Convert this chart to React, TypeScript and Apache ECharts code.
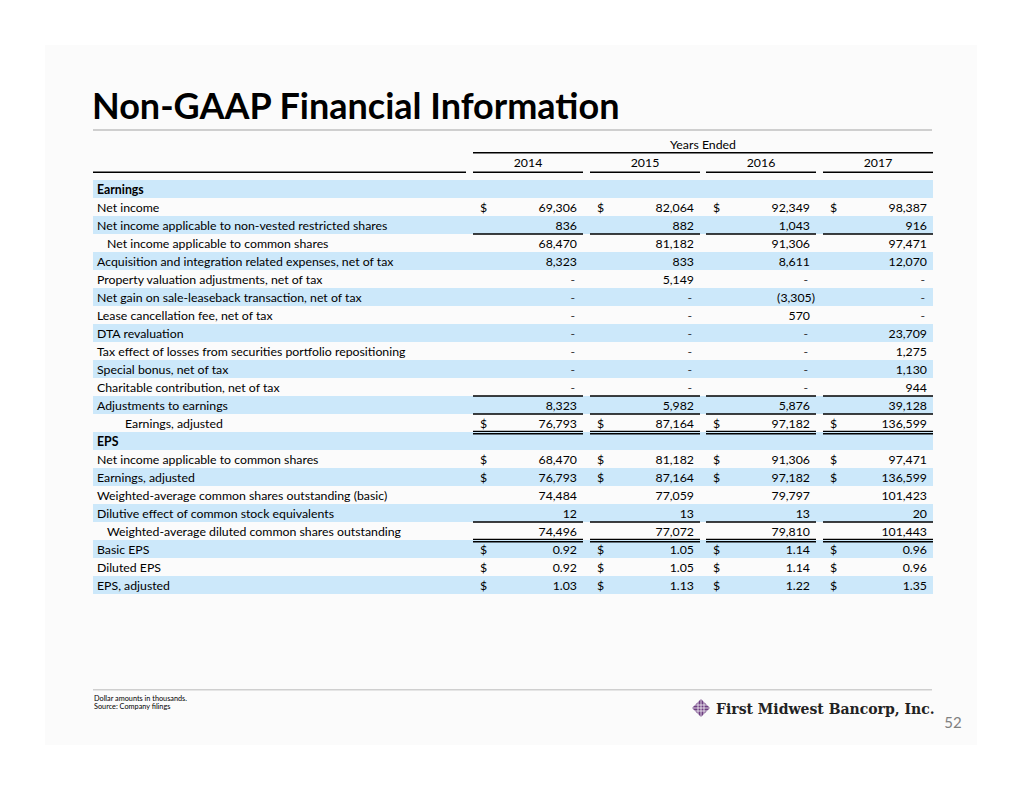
import React, { useEffect, useRef } from "react";
import * as echarts from "echarts";

const title = "Non-GAAP Financial Information";
const headerGroup = "Years Ended";
const years = ["2014", "2015", "2016", "2017"];

const rowLabels = [
  "Earnings",
  "Net income",
  "Net income applicable to non-vested restricted shares",
  "Net income applicable to common shares",
  "Acquisition and integration related expenses, net of tax",
  "Property valuation adjustments, net of tax",
  "Net gain on sale-leaseback transaction, net of tax",
  "Lease cancellation fee, net of tax",
  "DTA revaluation",
  "Tax effect of losses from securities portfolio repositioning",
  "Special bonus, net of tax",
  "Charitable contribution, net of tax",
  "Adjustments to earnings",
  "Earnings, adjusted",
  "EPS",
  "Net income applicable to common shares",
  "Earnings, adjusted",
  "Weighted-average common shares outstanding (basic)",
  "Dilutive effect of common stock equivalents",
  "Weighted-average diluted common shares outstanding",
  "Basic EPS",
  "Diluted EPS",
  "EPS, adjusted",
];

// undefined = section header (no values), null = dash
const v2014 = [undefined, 69306, 836, 68470, 8323, null, null, null, null, null, null, null, 8323, 76793, undefined, 68470, 76793, 74484, 12, 74496, 0.92, 0.92, 1.03];
const v2015 = [undefined, 82064, 882, 81182, 833, 5149, null, null, null, null, null, null, 5982, 87164, undefined, 81182, 87164, 77059, 13, 77072, 1.05, 1.05, 1.13];
const v2016 = [undefined, 92349, 1043, 91306, 8611, null, -3305, 570, null, null, null, null, 5876, 97182, undefined, 91306, 97182, 79797, 13, 79810, 1.14, 1.14, 1.22];
const v2017 = [undefined, 98387, 916, 97471, 12070, null, null, null, 23709, 1275, 1130, 944, 39128, 136599, undefined, 97471, 136599, 101423, 20, 101443, 0.96, 0.96, 1.35];

const dollarRows = [1, 13, 15, 16, 20, 21, 22];
const decimalRows = [20, 21, 22];
const boldRows = [0, 14];
const indentRows: Record<number, number> = { 3: 10, 13: 28, 19: 10 };
const singleLineBelow = [2, 11, 12, 18];
const doubleLineBelow = [13, 19];

const footnotes = ["Dollar amounts in thousands.", "Source: Company filings"];
const company = "First Midwest Bancorp, Inc.";
const pageNo = "52";

const FONT = "Lato, 'Open Sans', sans-serif";
const BODY = "12.3px " + FONT;

function fmt(v: number | null, decimals: boolean): string {
  if (v === null) return "-";
  const abs = Math.abs(v);
  const s = decimals
    ? abs.toFixed(2)
    : abs.toLocaleString("en-US", { maximumFractionDigits: 0 });
  return v < 0 ? "(" + s + ")" : s;
}

export default function App() {
  const ref = useRef<HTMLDivElement>(null);
  useEffect(() => {
    if (!ref.current) return;
    const chart = echarts.init(ref.current, null, { renderer: "svg" });

    const L = 93, R = 932;
    const rowTop = 180, rowH = 18;
    const colW = 110;
    const colLeft = (j: number) => 473 + Math.round(j * 116.67);
    const cols = [v2014, v2015, v2016, v2017];
    const g: any[] = [];

    // background panel
    g.push({ type: "rect", shape: { x: 45, y: 45, width: 932, height: 700 }, style: { fill: "#fbfbfb" }, silent: true });

    // title
    g.push({ type: "text", x: L - 1, y: 105, style: { text: title, font: "bold 36px " + FONT, fill: "#000", verticalAlign: "middle" } });
    g.push({ type: "rect", shape: { x: L, y: 129, width: R - L, height: 2 }, style: { fill: "#cfcfcf" } });

    // header
    g.push({ type: "text", x: (colLeft(0) + R + 1) / 2, y: 144, style: { text: headerGroup, font: BODY, fill: "#000", align: "center", verticalAlign: "middle" } });
    g.push({ type: "rect", shape: { x: colLeft(0), y: 152, width: R + 1 - colLeft(0), height: 1.6 }, style: { fill: "#000" } });
    g.push({ type: "rect", shape: { x: L, y: 171.5, width: 466 - L, height: 1.6 }, style: { fill: "#000" } });
    years.forEach((yr, j) => {
      const x0 = colLeft(j);
      g.push({ type: "text", x: x0 + colW / 2, y: 162, style: { text: yr, font: BODY, fill: "#000", align: "center", verticalAlign: "middle" } });
      g.push({ type: "rect", shape: { x: x0, y: 171.5, width: colW, height: 1.6 }, style: { fill: "#000" } });
    });

    // rows
    rowLabels.forEach((lab, i) => {
      const top = rowTop + i * rowH;
      const cy = top + rowH / 2;
      if (i % 2 === 0) {
        g.push({ type: "rect", shape: { x: L, y: top, width: R + 1 - L, height: rowH }, style: { fill: "#cce8fa" } });
      }
      g.push({
        type: "text", x: 97 + (indentRows[i] || 0), y: cy,
        style: { text: lab, font: (boldRows.includes(i) ? "bold " : "") + BODY, fill: "#000", verticalAlign: "middle" },
      });
      cols.forEach((arr, j) => {
        const v = arr[i];
        if (v === undefined) return;
        const x0 = colLeft(j);
        const right = x0 + colW - 6;
        if (dollarRows.includes(i)) {
          g.push({ type: "text", x: x0 + 7, y: cy, style: { text: "$", font: BODY, fill: "#000", verticalAlign: "middle" } });
        }
        const txt = fmt(v as number | null, decimalRows.includes(i));
        const neg = v !== null && (v as number) < 0;
        g.push({
          type: "text", x: v === null ? right - 2 : neg ? right + 5 : right, y: cy,
          style: { text: txt, font: BODY, fill: v === null ? "#333" : "#000", align: "right", verticalAlign: "middle" },
        });
      });
    });

    // underlines in value columns
    cols.forEach((_, j) => {
      const x0 = colLeft(j);
      singleLineBelow.forEach((i) => {
        const y = rowTop + (i + 1) * rowH - 0.8;
        g.push({ type: "rect", shape: { x: x0, y, width: colW, height: 1.5 }, style: { fill: "#000" } });
      });
      doubleLineBelow.forEach((i) => {
        const y = rowTop + (i + 1) * rowH - 1.2;
        g.push({ type: "rect", shape: { x: x0, y, width: colW, height: 1.3 }, style: { fill: "#000" } });
        g.push({ type: "rect", shape: { x: x0, y: y + 2.3, width: colW, height: 1.3 }, style: { fill: "#000" } });
      });
    });

    // footer
    g.push({ type: "rect", shape: { x: L, y: 689, width: R - L, height: 1.6 }, style: { fill: "#cfcfcf" } });
    footnotes.forEach((t, k) => {
      g.push({ type: "text", x: L + 1, y: 698 + k * 8.5, style: { text: t, font: "7.3px " + FONT, fill: "#000", verticalAlign: "middle" } });
    });
    // logo diamond
    const cxL = 701, cyL = 708;
    g.push({ type: "polygon", shape: { points: [[cxL, cyL - 9], [cxL + 9, cyL], [cxL, cyL + 9], [cxL - 9, cyL]] }, style: { fill: "#6e3f82" } });
    [-3, 0, 3].forEach((d) => {
      g.push({ type: "line", shape: { x1: cxL + d, y1: cyL - 9, x2: cxL + d, y2: cyL + 9 }, style: { stroke: "#fbfbfb", lineWidth: 0.8 } });
      g.push({ type: "line", shape: { x1: cxL - 9, y1: cyL + d, x2: cxL + 9, y2: cyL + d }, style: { stroke: "#fbfbfb", lineWidth: 0.8 } });
    });
    g.push({ type: "text", x: 716, y: 709, style: { text: company, font: "bold 14px 'DejaVu Serif', serif", fill: "#222", verticalAlign: "middle" } });
    g.push({ type: "text", x: 953, y: 722, style: { text: pageNo, font: "15px " + FONT, fill: "#808080", align: "center", verticalAlign: "middle" } });

    chart.setOption({ animation: false, graphic: { elements: g } });
    return () => chart.dispose();
  }, []);
  return <div ref={ref} style={{ position: "absolute", left: 0, top: 0, width: 1024, height: 791, background: "#fff" }} />;
}
